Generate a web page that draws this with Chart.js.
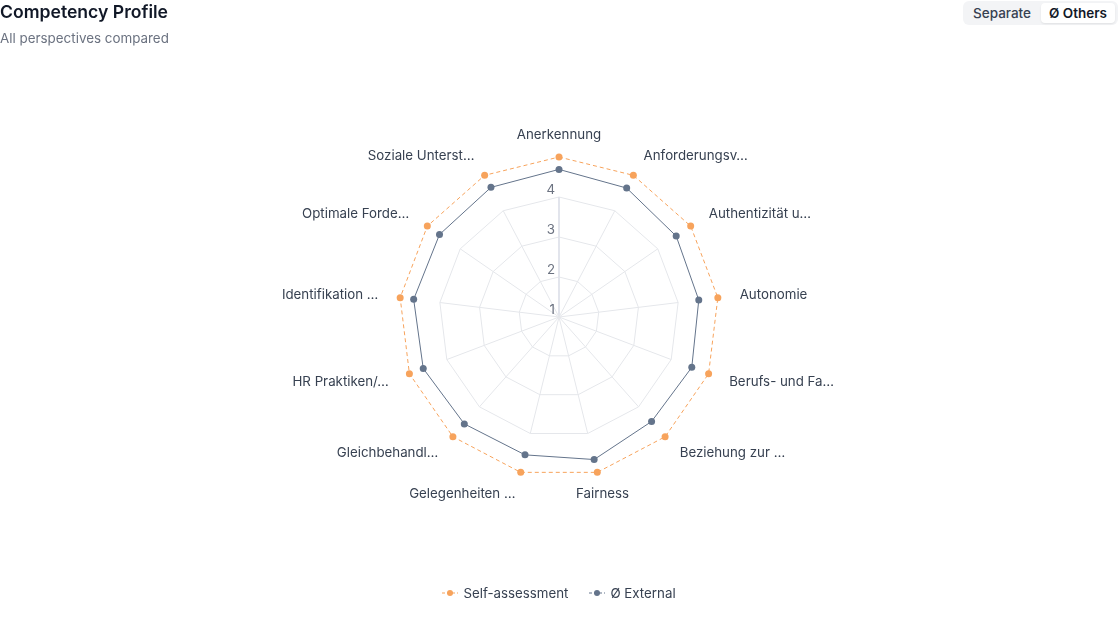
<!DOCTYPE html>
<html>
<head>
<meta charset="utf-8">
<script src="https://cdn.jsdelivr.net/npm/chart.js@4.4.1/dist/chart.umd.min.js"></script>
<style>
  html, body { margin: 0; padding: 0; background: #fff; font-family: Inter, "Noto Sans", sans-serif; }
  .wrap { position: relative; width: 1118px; height: 620px; overflow: hidden; }
  .chart-box { position: absolute; left: 0; top: 0; width: 1118px; height: 620px; }
  .header { position: absolute; left: 0; top: 0; }
  .title { font-size: 17.6px; font-weight: 600; color: #111827; line-height: 24px; margin: 0; }
  .subtitle { font-size: 13.4px; color: #6b7280; line-height: 18px; margin-top: 5px; }
  .toggle { position: absolute; right: 0; top: 1px; height: 24px; width: 155px; box-sizing: border-box; background: #f3f4f6; border-radius: 6px; display: flex; align-items: center; padding: 0 2px 0 2px; }
  .toggle span { font-size: 13.5px; padding: 2px 8px; line-height: 16px; border-radius: 4px; color: #374151; font-weight: 500; }
  .toggle span.active { background: #fff; color: #111827; font-weight: 600; box-shadow: 0 1px 2px rgba(0,0,0,0.08); margin-left: 2px; padding: 2px 8px 2px 8px; }
  .legend { position: absolute; left: 0; width: 1118px; top: 584px; display: flex; justify-content: center; gap: 21px; font-size: 13.3px; color: #374151; }
  .legend .item { display: flex; align-items: center; gap: 5px; line-height: 18px; }
</style>
</head>
<body>
<div class="wrap">
  <div class="chart-box"><canvas id="radar"></canvas></div>
  <div class="header">
    <div class="title">Competency Profile</div>
    <div class="subtitle">All perspectives compared</div>
  </div>
  <div class="toggle"><span>Separate</span><span class="active">Ø Others</span></div>
  <div class="legend" id="legend"></div>
</div>
<script>
// --- Data ---
const categories = [
  'Anerkennung', 'Anforderungsv…', 'Authentizität u…', 'Autonomie', 'Berufs- und Fa…',
  'Beziehung zur …', 'Fairness', 'Gelegenheiten …', 'Gleichbehandl…', 'HR Praktiken/…',
  'Identifikation …', 'Optimale Forde…', 'Soziale Unterst…'
];
const selfValues = [5, 5, 5, 5, 5, 5, 5, 5, 5, 5, 5, 5, 5];
const externalValues = [4.69, 4.64, 4.56, 4.52, 4.55, 4.49, 4.67, 4.55, 4.57, 4.63, 4.66, 4.63, 4.66];
const tickValues = [1, 2, 3, 4];
const seriesNames = ['Self-assessment', 'Ø External'];

const ORANGE = '#f7a35c';
const SLATE = '#64748b';
const GRID = '#e5e7eb';
const FONT = '13.3px Inter, "Noto Sans", sans-serif';
const lastTick = tickValues[tickValues.length - 1];

// labels sitting on the vertical-ish spokes are centred, the rest follow their side
const centredLabels = [0, 6];

// spokes only run out to the last labelled ring, not the scale max
const radarSpokes = {
  id: 'radarSpokes',
  beforeDatasetsDraw(chart) {
    const scale = chart.scales.r;
    const ctx = chart.ctx;
    const outer = scale.getDistanceFromCenterForValue(lastTick);
    ctx.save();
    categories.forEach((_, i) => {
      const p = scale.getPointPosition(i, outer);
      ctx.beginPath();
      ctx.strokeStyle = i === 0 ? '#dfe2ea' : GRID;
      ctx.lineWidth = i === 0 ? 1.8 : 1;
      ctx.moveTo(scale.xCenter, scale.yCenter);
      ctx.lineTo(p.x, p.y);
      ctx.stroke();
    });
    ctx.restore();
  }
};

// category names and radius numbers, placed from the r scale geometry
const radarText = {
  id: 'radarText',
  afterDraw(chart) {
    const scale = chart.scales.r;
    const ctx = chart.ctx;
    ctx.save();
    ctx.font = FONT;
    ctx.textBaseline = 'middle';

    ctx.fillStyle = '#374151';
    categories.forEach((label, i) => {
      const p = scale.getPointPosition(i, scale.drawingArea + 22);
      const dx = p.x - scale.xCenter;
      if (centredLabels.includes(i)) ctx.textAlign = 'center';
      else ctx.textAlign = dx > 0 ? 'left' : 'right';
      ctx.fillText(label, p.x, p.y);
    });

    ctx.fillStyle = '#6b7280';
    ctx.textAlign = 'right';
    tickValues.forEach((v) => {
      const d = scale.getDistanceFromCenterForValue(v);
      ctx.fillText(String(v), scale.xCenter - 4, scale.yCenter - d - 7);
    });
    ctx.restore();
  }
};

new Chart(document.getElementById('radar').getContext('2d'), {
  type: 'radar',
  data: {
    labels: categories,
    datasets: [{
      label: seriesNames[0], data: selfValues,
      borderColor: ORANGE, borderWidth: 1, borderDash: [4, 3],
      backgroundColor: 'transparent', fill: false,
      pointRadius: 3.5, pointBackgroundColor: ORANGE, pointBorderWidth: 0,
    }, {
      label: seriesNames[1], data: externalValues,
      borderColor: SLATE, borderWidth: 1,
      backgroundColor: 'transparent', fill: false,
      pointRadius: 3.5, pointBackgroundColor: SLATE, pointBorderWidth: 0,
    }]
  },
  options: {
    responsive: true, maintainAspectRatio: false, animation: false,
    layout: { padding: { top: 157, bottom: 143, left: 0, right: 0 } },
    plugins: { legend: { display: false }, tooltip: { enabled: false } },
    elements: { line: { tension: 0 } },
    scales: {
      r: {
        min: 1, max: 5,
        ticks: { display: false, stepSize: 1 },
        grid: {
          color: (c) => c.tick && c.tick.value > lastTick ? 'transparent' : GRID,
          lineWidth: 1
        },
        angleLines: { display: false },
        pointLabels: { display: false }
      }
    }
  },
  plugins: [radarSpokes, radarText]
});

// --- HTML legend ---
const legendEl = document.getElementById('legend');
[[seriesNames[0], ORANGE], [seriesNames[1], SLATE]].forEach(([name, color]) => {
  const item = document.createElement('div');
  item.className = 'item';
  item.innerHTML =
    `<svg width="16" height="10"><line x1="0" y1="5" x2="16" y2="5" stroke="${color}" stroke-width="1.2" stroke-dasharray="3 2"/>` +
    `<circle cx="8" cy="5" r="3" fill="${color}"/></svg><span>${name}</span>`;
  legendEl.appendChild(item);
});
</script>
</body>
</html>
